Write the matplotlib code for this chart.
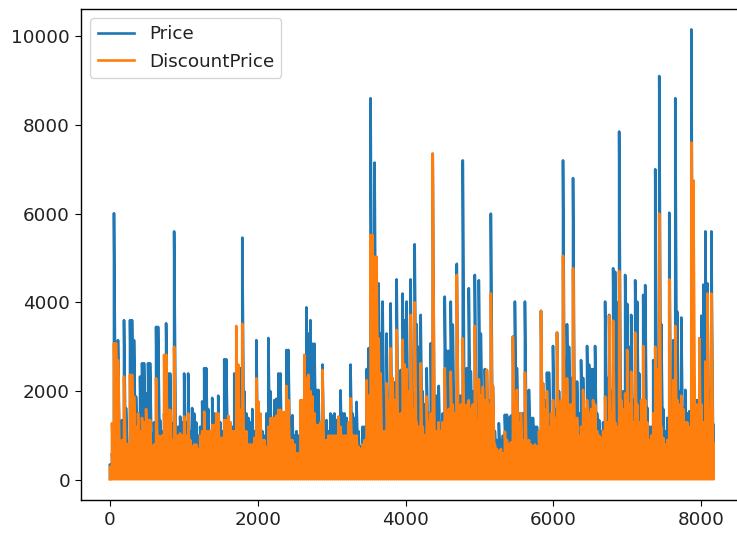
import numpy as np
import matplotlib
matplotlib.use('Agg')
import matplotlib.pyplot as plt

# peak height of each small stretch of rows
price = [
    350, 600, 6010, 1800, 3150, 1130, 1350, 3600, 1620, 800,
    3600, 3600, 3150, 1880, 1500, 2330, 2630, 2630, 1950, 2630,
    2630, 1050, 1300, 3450, 3450, 1350, 1100, 1500, 3530, 2400,
    2400, 1280, 5600, 1100, 1200, 1430, 1300, 2400, 1300, 2400,
    1100, 1620, 1500, 1300, 1000, 1200, 1770, 2520, 2520, 1600,
    1100, 1850, 1500, 1400, 1900, 1300, 1100, 2720, 2720, 1400,
    1300, 1200, 2400, 1600, 1500, 2520, 5460, 2000, 1500, 1400,
    1300, 1600, 1100, 3150, 1600, 1480, 1100, 1000, 1500, 3200,
    2000, 1200, 1800, 1830, 2400, 2400, 1500, 1500, 2930, 2930,
    1400, 1460, 1000, 1100, 1000, 1470, 1300, 2480, 3890, 3300,
    3600, 3070, 3070, 2030, 2030, 1300, 2600, 1300, 1350, 1100,
    1500, 1450, 1500, 1350, 1300, 2020, 1500, 1500, 1400, 1300,
    2600, 1500, 1400, 1760, 1100, 750, 1200, 1200, 2500, 2970,
    8600, 5000, 7150, 3900, 4430, 3300, 4020, 1700, 3300, 1500,
    3980, 1600, 2200, 4520, 1900, 2480, 4200, 3600, 4020, 2000,
    4520, 1900, 5310, 3510, 3000, 3720, 2000, 1700, 2520, 1500,
    3080, 7350, 1650, 1900, 2120, 1100, 1500, 4130, 2910, 2910,
    4020, 3500, 1500, 4870, 1900, 1900, 7200, 2500, 2520, 4320,
    2450, 2000, 4620, 1650, 4500, 3300, 2000, 2500, 2480, 1800,
    6000, 2120, 1100, 900, 1280, 900, 1000, 1470, 1470, 1400,
    1450, 3230, 4020, 2520, 1500, 1500, 1500, 4020, 1800, 2030,
    1400, 1400, 1200, 1200, 1100, 3810, 2180, 1800, 2420, 2420,
    1500, 3020, 1600, 3320, 2000, 1700, 7200, 2700, 3510, 3000,
    2300, 6800, 1800, 2220, 1500, 2700, 2300, 1500, 3020, 2600,
    2500, 2500, 3020, 1500, 1350, 1100, 1300, 4020, 2300, 3720,
    2000, 4770, 4690, 4000, 7850, 1800, 2000, 4620, 3970, 3000,
    3720, 1800, 4500, 4020, 2400, 1800, 4170, 4390, 1630, 1200,
    1200, 2700, 7000, 1800, 9100, 3510, 1600, 1100, 1400, 6020,
    2000, 3150, 8600, 3790, 2000, 3660, 1600, 2030, 1500, 1550,
    10150, 3000, 1800, 1800, 3190, 3700, 4400, 5600, 4430, 2000,
    5600, 1240,
]
discount = [
    300, 1280, 3080, 3080, 2700, 830, 900, 2330, 830, 800,
    2370, 2370, 1880, 1200, 1500, 1100, 1400, 1300, 1600, 1350,
    1350, 750, 800, 2290, 1000, 980, 1000, 2820, 2820, 1580,
    1580, 900, 3000, 1000, 1000, 1050, 1000, 1430, 1000, 1500,
    900, 750, 800, 800, 700, 1000, 1100, 1540, 1100, 1100,
    1100, 1240, 1240, 1500, 1500, 950, 950, 1350, 1350, 1450,
    1300, 1100, 1100, 3470, 2600, 1580, 3520, 1100, 1100, 800,
    800, 800, 950, 2290, 1770, 1500, 900, 900, 750, 1200,
    1390, 1400, 1400, 1450, 1580, 1580, 1530, 1530, 2120, 1800,
    900, 900, 800, 600, 600, 1800, 1800, 2820, 2300, 2370,
    2000, 1880, 1500, 1240, 1240, 1300, 2480, 900, 900, 1000,
    1000, 1000, 1000, 1000, 1430, 1200, 1000, 1000, 1000, 1300,
    1840, 1000, 1000, 1000, 750, 700, 800, 900, 2250, 1900,
    5520, 5520, 5030, 5030, 3190, 2400, 1100, 1100, 2180, 1800,
    2970, 2300, 1800, 3380, 1300, 1500, 3156, 2600, 2500, 2000,
    3720, 1600, 4000, 1300, 1200, 2630, 1200, 1000, 1880, 1300,
    1500, 7350, 1000, 1100, 1300, 1100, 1300, 2520, 1400, 1600,
    2440, 1700, 1500, 4620, 1500, 1700, 3190, 1500, 1700, 1800,
    1600, 1700, 3470, 1300, 2270, 1900, 2100, 1800, 2480, 1700,
    4200, 2120, 800, 700, 650, 700, 600, 1090, 900, 800,
    850, 3230, 1800, 2030, 1300, 1500, 900, 2420, 850, 900,
    800, 750, 800, 750, 1100, 3810, 2180, 1600, 2000, 1200,
    1500, 1800, 1400, 3320, 1700, 1800, 5050, 1900, 2290, 1700,
    1700, 4770, 1300, 1400, 1000, 1200, 2030, 1600, 1800, 1500,
    1600, 1800, 1700, 1100, 1000, 950, 1100, 1880, 1300, 3700,
    1500, 3590, 1300, 1200, 4710, 1800, 1600, 1950, 2930, 1700,
    2440, 1300, 3320, 1700, 1300, 1800, 3020, 1800, 1300, 900,
    1000, 1500, 3000, 2500, 6000, 1200, 950, 800, 900, 4520,
    1500, 2250, 3470, 1800, 1700, 1900, 1600, 1300, 1300, 1200,
    7600, 6750, 1300, 1700, 3190, 1700, 1300, 2670, 4200, 1600,
    4200, 830,
]
last_row = 8165
low_price = 40
low_discount = 15


def sawtooth(values, low):
    # every sampled row drops back to the floor before the next spike
    rows = np.linspace(0, last_row, len(values))
    xs = np.repeat(rows, 2)
    ys = np.empty(len(xs))
    ys[0::2] = low
    ys[1::2] = values
    return xs, ys


plt.rcParams['font.size'] = 13.2
plt.rcParams['axes.linewidth'] = 1.0
plt.rcParams['xtick.major.size'] = 4.4
plt.rcParams['ytick.major.size'] = 4.4
plt.rcParams['text.color'] = '#222222'
plt.rcParams['xtick.labelcolor'] = '#222222'
plt.rcParams['ytick.labelcolor'] = '#222222'

fig, ax = plt.subplots(figsize=(7.37, 5.33), dpi=100)
fig.subplots_adjust(left=81 / 737, right=737 / 737, top=1 - 9 / 533, bottom=1 - 500 / 533)

x, y = sawtooth(price, low_price)
ax.plot(x, y, color='#1f77b4', linewidth=1.9, label='Price')
x, y = sawtooth(discount, low_discount)
ax.plot(x, y, color='#ff7f0e', linewidth=1.9, label='DiscountPrice')

ax.set_xlim(-392, 8485)
ax.set_ylim(-450, 10610)
ax.set_xticks([0, 2000, 4000, 6000, 8000])
ax.set_yticks([0, 2000, 4000, 6000, 8000, 10000])
ax.spines['right'].set_visible(False)
ax.legend(loc='upper left')

plt.savefig('out.png', dpi=100)
